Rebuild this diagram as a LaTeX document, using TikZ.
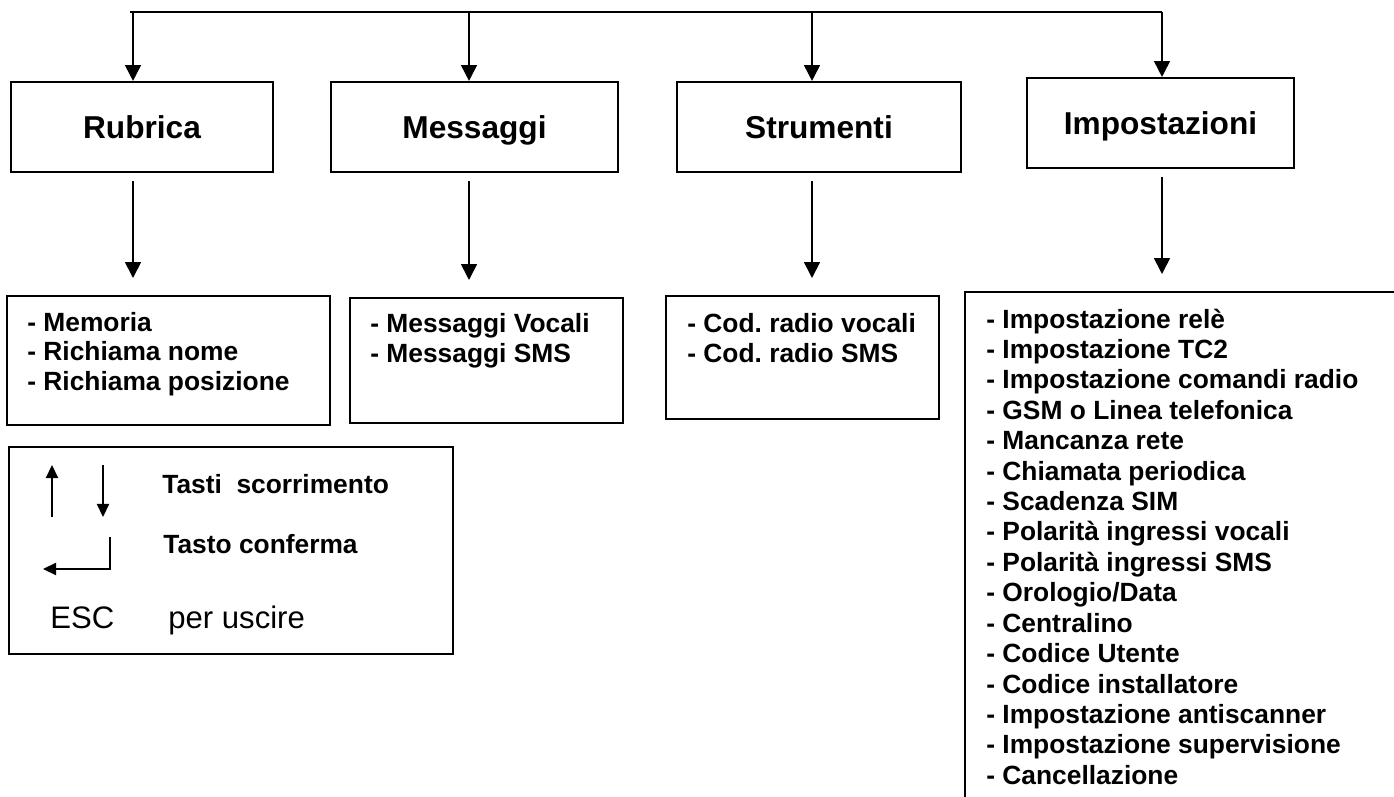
\documentclass[tikz,border=0pt]{standalone}
\usepackage{fontspec}
\setmainfont{Liberation Sans}
\usetikzlibrary{arrows.meta}
\usetikzlibrary{positioning}
\frenchspacing

\begin{document}
\begin{tikzpicture}[
    box/.style={draw,black,rectangle,line width=1.2pt,minimum width=#1,minimum height=1.8cm,font=\fontsize{18}{22}\selectfont\bfseries,text height=13pt,text depth=0pt},
    frame/.style={draw,black,rectangle,line width=1.2pt,anchor=north west,inner sep=0pt},
    list/.style={anchor=north west,inner sep=0pt,align=left,font=\fontsize{15}{16.8}\selectfont\bfseries},
    tasto/.style={anchor=base west,inner sep=0pt,font=\fontsize{15}{18}\selectfont\bfseries},
    esc/.style={anchor=base west,inner sep=0pt,font=\fontsize{17.7}{21}\selectfont},
    arr/.style={line width=1pt,-{Triangle[width=9pt,length=9pt]}},
    down/.style={arr,shorten <=0.16cm,shorten >=0.34cm},
    key/.style={line width=0.9pt,-{Triangle[width=7pt,length=7.5pt]}}
]

    \useasboundingbox(0,0)rectangle(27.88,-15.94);

    \coordinate(t1)at(2.66,-0.24);
    \coordinate(t2)at(9.38,-0.24);
    \coordinate(t3)at(16.24,-0.24);
    \coordinate(t4)at(23.24,-0.24);

    \node[box=5.24cm](r)at(2.84,-2.54){Rubrica};
    \node[box=5.74cm](m)at(9.49,-2.54){Messaggi};
    \node[box=5.68cm](s)at(16.38,-2.54){Strumenti};
    \node[box=5.34cm](i)at(23.21,-2.46){Impostazioni};

    \node[frame,minimum width=6.46cm,minimum height=2.58cm](r2)at(0.12,-5.90){};
    \node[frame,minimum width=5.46cm,minimum height=2.50cm](m2)at(6.98,-5.94){};
    \node[frame,minimum width=5.46cm,minimum height=2.46cm](s2)at(13.30,-5.90){};
    \node[frame,minimum width=10cm,minimum height=12cm](i2)at(19.28,-5.82){};

    \node[list](rl)at(0.54,-6.24){- Memoria\\- Richiama nome\\- Richiama posizione};
    \node[list](ml)at(7.40,-6.27){- Messaggi Vocali\\- Messaggi SMS};
    \node[list](sl)at(13.74,-6.27){- Cod. radio vocali\\- Cod. radio SMS};
    \node[list,font=\fontsize{15}{17.3}\selectfont\bfseries](il)at(19.72,-6.17){- Impostazione relè\\- Impostazione TC2\\- Impostazione comandi radio\\- GSM o Linea telefonica\\- Mancanza rete\\- Chiamata periodica\\- Scadenza SIM\\- Polarità ingressi vocali\\- Polarità ingressi SMS\\- Orologio/Data\\- Centralino\\- Codice Utente\\- Codice installatore\\- Impostazione antiscanner\\- Impostazione supervisione\\- Cancellazione};

    \draw[line width=1pt](2.60,-0.24)--(t4);
    \draw[arr](t1)--(t1|-r.north);
    \draw[arr](t2)--(t2|-m.north);
    \draw[arr](t3)--(t3|-s.north);
    \draw[arr](t4)--(t4|-i.north);

    \draw[down](t1|-r.south)--(t1|-r2.north);
    \draw[down](t2|-m.south)--(t2|-m2.north);
    \draw[down](t3|-s.south)--(t3|-s2.north);
    \draw[down](t4|-i.south)--(t4|-i2.north);

    % legenda tasti
    \node[frame,minimum width=8.88cm,minimum height=4.14cm](l)at(0.16,-8.92){};
    \draw[key](1.04,-10.34)--(1.04,-9.30);
    \draw[key](2.06,-9.30)--(2.06,-10.34);
    \draw[key](2.20,-10.74)--(2.20,-11.38)--(0.86,-11.38);
    \node[tasto](k1)at(3.24,-9.86){Tasti\ \ scorrimento};
    \node[tasto](k2)at(3.26,-11.06){Tasto conferma};
    \node[esc](k3)at(1.00,-12.56){ESC};
    \node[esc](k4)at(3.36,-12.56){per uscire};

\end{tikzpicture}
\end{document}
